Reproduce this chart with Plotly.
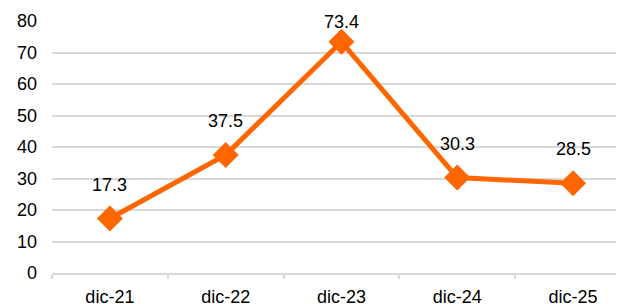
import plotly.graph_objects as go

categories = ["dic-21", "dic-22", "dic-23", "dic-24", "dic-25"]
values = [17.3, 37.5, 73.4, 30.3, 28.5]
labels = ["17.3", "37.5", "73.4", "30.3", "28.5"]
y_ticks = [0, 10, 20, 30, 40, 50, 60, 70, 80]

orange = "#FF6600"
grid = "#D9D9D9"
font = dict(family="Liberation Sans, Arial, sans-serif", size=18, color="#000000")

W, H = 616, 296
M = dict(l=44, r=0, t=13, b=31)
YMAX = 80
plot_h = H - M["t"] - M["b"]

fig = go.Figure()
fig.add_trace(go.Scatter(
    x=categories, y=values, mode="lines+markers",
    line=dict(color=orange, width=5),
    marker=dict(symbol="diamond", size=20, color=orange),
    hoverinfo="skip",
))
for c, v, t in zip(categories, values, labels):
    # distance from point to top of figure, keep label inside like the original
    px_from_top = M["t"] + (YMAX - v) / YMAX * plot_h
    shift = min(34, px_from_top - 14)
    fig.add_annotation(x=c, y=v, text=t, showarrow=False, yshift=shift,
                       font=font, xanchor="center", yanchor="middle")

fig.update_layout(
    width=W, height=H,
    margin=M,
    paper_bgcolor="white", plot_bgcolor="white",
    showlegend=False, font=font,
)
fig.update_xaxes(
    type="category", range=[-0.5, 4.44],
    showgrid=False, showline=True, linecolor=grid, linewidth=2,
    ticks="outside", tickson="boundaries", ticklen=4, tickcolor=grid, tickwidth=2,
    tickfont=font, automargin=False, ticklabelstandoff=6,
)
fig.update_yaxes(
    range=[0, YMAX], tickvals=y_ticks, showgrid=True, gridcolor=grid, gridwidth=2,
    zeroline=False, showline=False, ticks="", tickfont=font, automargin=False,
    ticklabelstandoff=14,
)
fig.write_html("out.html")
